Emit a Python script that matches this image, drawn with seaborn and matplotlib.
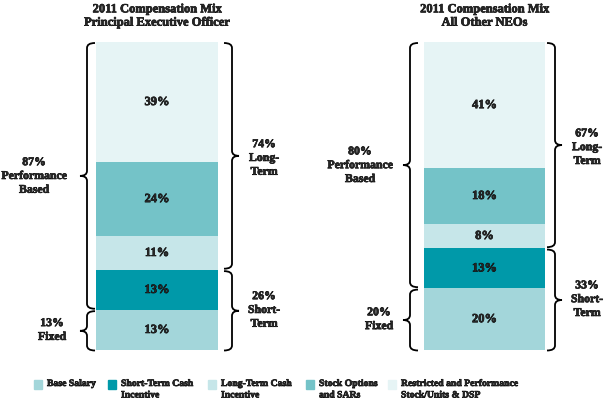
import numpy as np
import pandas as pd
import seaborn as sns
import matplotlib.pyplot as plt
import matplotlib.patheffects as pe
from matplotlib.path import Path
from matplotlib.patches import PathPatch, Rectangle

# components, bottom of the bar first
components = ['Base Salary', 'Short-Term Cash\nIncentive', 'Long-Term Cash\nIncentive',
              'Stock Options\nand SARs', 'Restricted and Performance\nStock/Units & DSP']
colors = ['#a3d6da', '#0099a9', '#c6e6e9', '#74c3c8', '#e6f4f5']
peo_mix = [13, 13, 11, 24, 39]
neo_mix = [20, 13, 8, 18, 41]
titles = ['2011 Compensation Mix\nPrincipal Executive Officer', '2011 Compensation Mix\nAll Other NEOs']

sns.set_style('white')
plt.rcParams['font.family'] = 'Liberation Serif'
plt.rcParams['font.weight'] = 'bold'
# a touch of stroke so the small bold serif reads as heavy as the original
FONT = dict(family='Liberation Serif', fontweight='bold',
            path_effects=[pe.withStroke(linewidth=0.45, foreground='black')])

W, H = 606, 403
fig = plt.figure(figsize=(W / 100, H / 100), dpi=100)

BAR_TOP, BAR_BOT = 42, 350
PX_PER_PCT = (BAR_BOT - BAR_TOP) / 100.0


def brace(ax, x, y0, y1, d, hw, tw, hh):
    # curly brace; d=-1 tip points left, d=+1 tip points right
    ym = (y0 + y1) / 2
    verts = [(x - d * hw, y0), (x, y0), (x, y0 + hh), (x, ym - hh), (x, ym), (x + d * tw, ym),
             (x, ym), (x, ym + hh), (x, y1 - hh), (x, y1), (x - d * hw, y1)]
    codes = [Path.MOVETO, Path.CURVE3, Path.CURVE3, Path.LINETO, Path.CURVE3, Path.CURVE3,
             Path.CURVE3, Path.CURVE3, Path.LINETO, Path.CURVE3, Path.CURVE3]
    ax.add_patch(PathPatch(Path(verts, codes), fc='none', ec='black', lw=1.3, clip_on=False))


def draw_panel(x0, w, mix, title, lb, rb, perf_x, fixed_x, side_x):
    ax = fig.add_axes([x0 / W, (H - BAR_BOT) / H, w / W, (BAR_BOT - BAR_TOP) / H])
    px = lambda p: (p - x0) / w - 0.5
    py = lambda p: (BAR_BOT - p) / PX_PER_PCT

    df = pd.DataFrame({'part': components, 'value': mix, 'color': colors})
    df['top'] = df['value'].cumsum()
    # overlapping cumulative bars, tallest first
    for i in range(len(df) - 1, -1, -1):
        sns.barplot(x=['mix'], y=[df['top'][i]], color=df['color'][i], width=1,
                    linewidth=0, saturation=1, ax=ax)
        mid = df['top'][i] - df['value'][i] / 2
        ax.text(0, mid, f"{df['value'][i]}%", ha='center', va='center', fontsize=9, **FONT)
    ax.set_xlim(-0.5, 0.5)
    ax.set_ylim(0, 100)
    ax.axis('off')

    fx, fy = 1.0 / w, 1.0 / PX_PER_PCT
    g = 1.2 * fy
    base = df['value'][0]
    short = df['top'][1]
    # left braces: fixed / performance based
    brace(ax, px(lb), 0 - 0.5 * fy, base - g, -1, 8 * fx, 7 * fx, 5 * fy)
    brace(ax, px(lb), base + g, 100 - 1 * fy, -1, 8 * fx, 7 * fx, 5 * fy)
    # right braces: short-term / long-term
    brace(ax, px(rb), 0 - 0.5 * fy, short - g, 1, 8 * fx, 7 * fx, 5 * fy)
    brace(ax, px(rb), short + g, 100 - 1 * fy, 1, 8 * fx, 7 * fx, 5 * fy)

    kw = dict(ha='center', va='center', fontsize=8.5, linespacing=1.2, **FONT)
    ax.text(px(perf_x), (base + 100) / 2, f'{100 - base}%\nPerformance\nBased', **kw)
    ax.text(px(fixed_x), base / 2, f'{base}%\nFixed', **kw)
    ax.text(px(side_x), (short + 100) / 2 - 2 * fy, f'{100 - short}%\nLong-\nTerm', **kw)
    ax.text(px(side_x), short / 2, f'{short}%\nShort-\nTerm', **kw)
    ax.text(0, py(16), title, ha='center', va='center', fontsize=9, linespacing=1.15, **FONT)


draw_panel(96, 122, peo_mix, titles[0], 87, 232, 34, 52, 264)
draw_panel(424, 121, neo_mix, titles[1], 410, 555, 360, 379, 587)

# legend
sq_x = [34, 108, 208, 306, 388]
for x, lab, c in zip(sq_x, components, colors):
    fig.add_artist(Rectangle((x / W, 1 - 389 / H), 8 / W, 9 / H, color=c, transform=fig.transFigure))
    fig.text((x + 13) / W, 1 - 379 / H, lab, ha='left', va='top', fontsize=7,
             linespacing=1.35, **FONT)

fig.savefig('out.png', dpi=100)
